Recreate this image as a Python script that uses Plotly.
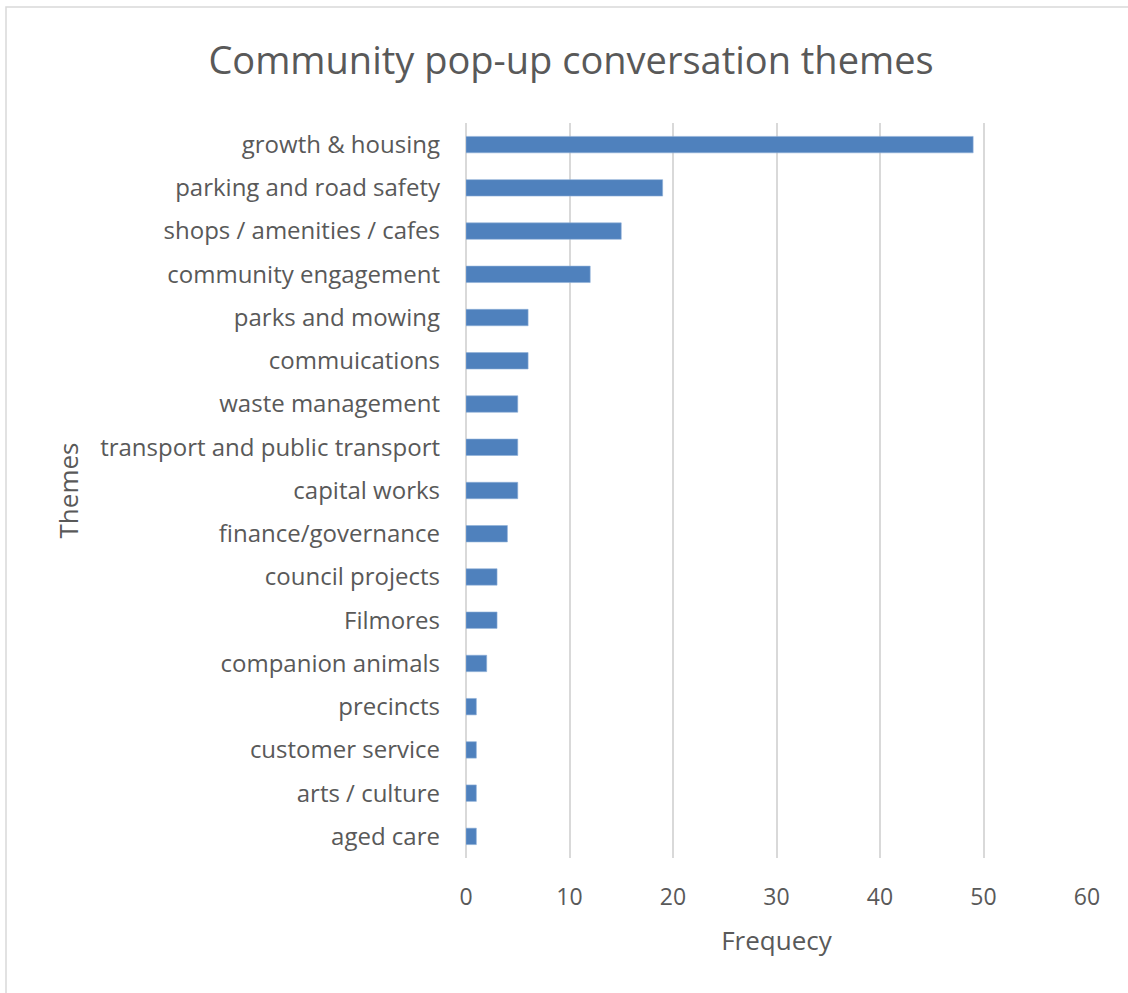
import plotly.graph_objects as go

# Conversation themes, top to bottom as listed
themes = [
    "growth & housing",
    "parking and road safety",
    "shops / amenities / cafes",
    "community engagement",
    "parks and mowing",
    "commuications",
    "waste management",
    "transport and public transport",
    "capital works",
    "finance/governance",
    "council projects",
    "Filmores",
    "companion animals",
    "precincts",
    "customer service",
    "arts / culture",
    "aged care",
]
frequency = [49, 19, 15, 12, 6, 6, 5, 5, 5, 4, 3, 3, 2, 1, 1, 1, 1]
x_ticks = [0, 10, 20, 30, 40, 50, 60]

FONT = "Open Sans"
GREY = "#595959"

W, H = 1128, 993
ML, MR, MT, MB = 466, 41, 123, 135
PW, PH = W - ML - MR, H - MT - MB

fig = go.Figure(
    go.Bar(
        x=frequency,
        y=themes,
        orientation="h",
        marker=dict(color="#4F81BD", line=dict(color="#8FB0D8", width=0.6)),
        hoverinfo="x+y",
    )
)

fig.update_layout(
    width=W,
    height=H,
    paper_bgcolor="white",
    plot_bgcolor="white",
    margin=dict(l=ML, r=MR, t=MT, b=MB),
    bargap=0.62,
    showlegend=False,
    title=dict(
        text="Community pop-up conversation themes",
        x=571 / W,
        xref="container",
        xanchor="center",
        y=1 - 61 / H,
        yref="container",
        yanchor="middle",
        font=dict(family=FONT, size=38, color=GREY),
    ),
    xaxis=dict(
        range=[0, 60],
        tickvals=x_ticks,
        showgrid=True,
        gridcolor="#D9D9D9",
        gridwidth=1.5,
        zeroline=True,
        zerolinecolor="#D9D9D9",
        zerolinewidth=1.5,
        showline=False,
        ticks="",
        tickfont=dict(family=FONT, size=23, color=GREY),
        ticklabelstandoff=23,
        title=dict(text="Frequecy", font=dict(family=FONT, size=26, color=GREY), standoff=20),
    ),
    yaxis=dict(
        categoryorder="array",
        categoryarray=themes,
        autorange="reversed",
        showgrid=False,
        showline=False,
        ticks="",
        tickfont=dict(family=FONT, size=24, color=GREY),
        ticklabelstandoff=25,
        title=dict(text="Themes", font=dict(family=FONT, size=26, color=GREY), standoff=14),
    ),
    shapes=[
        dict(
            type="rect",
            xref="paper",
            yref="paper",
            x0=(6 - ML) / PW,
            x1=(W + 20 - ML) / PW,
            y0=-(MB + 20) / PH,
            y1=(H - MB - 7) / PH,
            line=dict(color="#D9D9D9", width=1.5),
            fillcolor="rgba(0,0,0,0)",
            layer="below",
        )
    ],
)

fig.write_html("out.html")
